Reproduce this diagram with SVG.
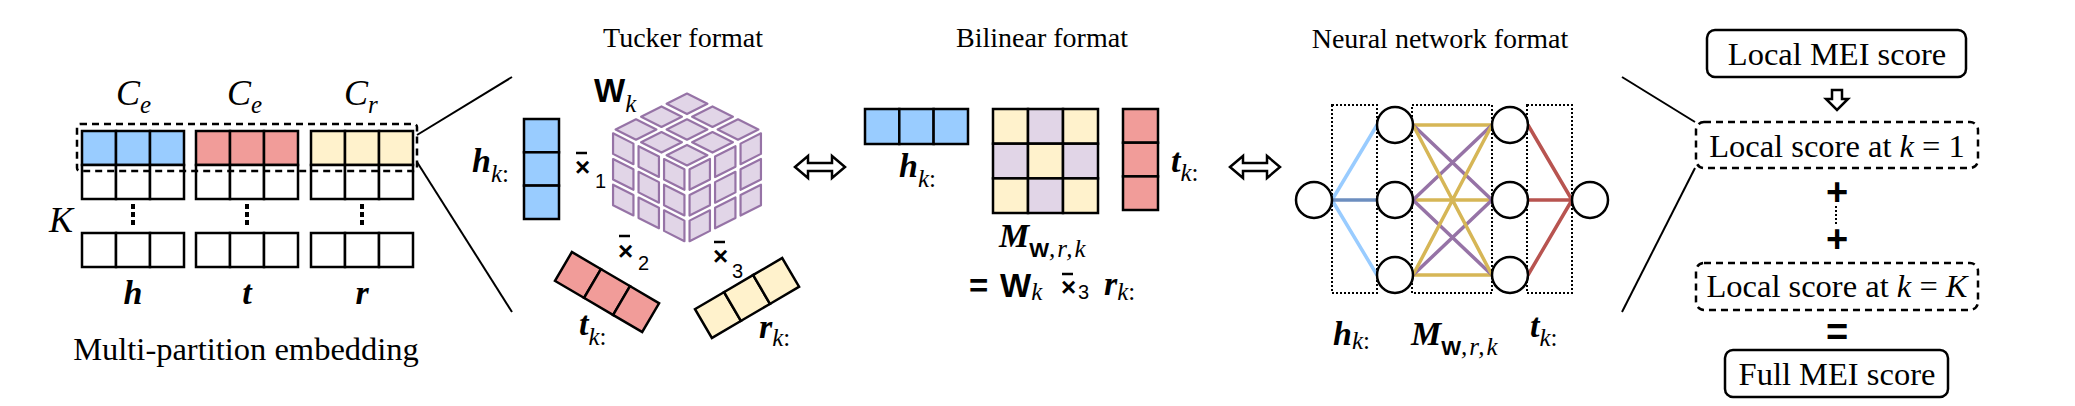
<svg xmlns="http://www.w3.org/2000/svg" width="2075" height="406" viewBox="0 0 2075 406">
<style>
.cell{stroke:#000;stroke-width:2.5}
.b{fill:#99ccff}.r{fill:#f19c99}.y{fill:#fff2cc}.p{fill:#e1d5e7}.w{fill:#fff}
.title{font-family:"Liberation Serif","Times New Roman",serif;font-size:28px}
.lbl{font-family:"Liberation Serif","Times New Roman",serif;font-size:32.5px}
.bi{font-family:"Liberation Serif","Times New Roman",serif;font-weight:bold;font-style:italic;font-size:34px}
.it{font-family:"Liberation Serif","Times New Roman",serif;font-style:italic;font-size:36px}
.sub{font-family:"Liberation Serif","Times New Roman",serif;font-style:italic;font-weight:normal;font-size:25px}
.up{font-style:normal}
.W{font-family:"Liberation Sans",Arial,sans-serif;font-weight:bold;font-size:33px}
.Ws{font-family:"Liberation Sans",Arial,sans-serif;font-weight:bold;font-style:normal;font-size:21px}
.op{font-family:"Liberation Sans",Arial,sans-serif;font-weight:bold;font-size:26px}
.big{font-family:"Liberation Sans",Arial,sans-serif;font-weight:bold;font-size:38px}
.num{font-family:"Liberation Sans",Arial,sans-serif;font-size:20px}
.conn{stroke:#000;stroke-width:2;fill:none}
.dash{fill:none;stroke:#000;stroke-width:2.5;stroke-dasharray:7 5}
.dot{fill:none;stroke:#000;stroke-width:2;stroke-dasharray:2 2}
.vdots{stroke:#000;stroke-width:4;stroke-dasharray:5 3}
.node{fill:#fff;stroke:#000;stroke-width:2.5}
.box{fill:#fff;stroke:#000;stroke-width:2.5}
.cc{fill:#e1d5e7;stroke:#9673a6;stroke-width:2.2;vector-effect:non-scaling-stroke;stroke-linejoin:round}
.bar{stroke:#000;stroke-width:2.5}
.arr{fill:#fff;stroke:#000;stroke-width:2.5}
.e{fill:none;stroke-width:3.5}
</style>
<defs>
<g id="face" fill="#e1d5e7" stroke="#9673a6">
<rect class="cc" x="0.1" y="0.1" width="0.8" height="0.8"/><rect class="cc" x="1.1" y="0.1" width="0.8" height="0.8"/><rect class="cc" x="2.1" y="0.1" width="0.8" height="0.8"/>
<rect class="cc" x="0.1" y="1.1" width="0.8" height="0.8"/><rect class="cc" x="1.1" y="1.1" width="0.8" height="0.8"/><rect class="cc" x="2.1" y="1.1" width="0.8" height="0.8"/>
<rect class="cc" x="0.1" y="2.1" width="0.8" height="0.8"/><rect class="cc" x="1.1" y="2.1" width="0.8" height="0.8"/><rect class="cc" x="2.1" y="2.1" width="0.8" height="0.8"/>
</g>
<path id="dbl" d="M0 0 L13 -11 L13 -4 L37 -4 L37 -11 L50 0 L37 11 L37 4 L13 4 L13 11 Z"/>
</defs>

<!-- Connectors -->
<g id="connectors">
<path class="conn" d="M417 135 L512 77"/>
<path class="conn" d="M417 162 L512 312"/>
<path class="conn" d="M1622 77 L1695 122"/>
<path class="conn" d="M1695 168 L1622 312"/>
<g class="e">
<path stroke="#99ccff" d="M1332 200 L1377 125 M1332 200 L1377 275"/>
<path stroke="#6c8ebf" d="M1332 200 L1377 200"/>
<path stroke="#d6b656" d="M1413 125 H1492 M1413 200 H1492 M1413 275 H1492"/>
<path stroke="#9673a6" d="M1413 125 L1492 200 M1413 200 L1492 125 M1413 200 L1492 275 M1413 275 L1492 200"/>
<path stroke="#d6b656" d="M1413 125 L1492 275 M1413 275 L1492 125"/>
<path stroke="#b85450" d="M1528 125 L1572 200 M1528 200 L1572 200 M1528 275 L1572 200"/>
</g>
</g>

<!-- Multi-partition embedding -->
<g id="embedding">
<text class="it" x="116" y="105">C<tspan class="sub" dy="8">e</tspan></text>
<text class="it" x="227" y="105">C<tspan class="sub" dy="8">e</tspan></text>
<text class="it" x="344" y="105">C<tspan class="sub" dy="8">r</tspan></text>
<g id="emb-h">
<rect class="cell b" x="82" y="131" width="34" height="34"/><rect class="cell b" x="116" y="131" width="34" height="34"/><rect class="cell b" x="150" y="131" width="34" height="34"/>
<rect class="cell w" x="82" y="165" width="34" height="34"/><rect class="cell w" x="116" y="165" width="34" height="34"/><rect class="cell w" x="150" y="165" width="34" height="34"/>
<rect class="cell w" x="82" y="233" width="34" height="34"/><rect class="cell w" x="116" y="233" width="34" height="34"/><rect class="cell w" x="150" y="233" width="34" height="34"/>
<line class="vdots" x1="133" y1="204" x2="133" y2="226"/>
<text class="bi" x="133" y="304" text-anchor="middle">h</text>
</g>
<g id="emb-t">
<rect class="cell r" x="196" y="131" width="34" height="34"/><rect class="cell r" x="230" y="131" width="34" height="34"/><rect class="cell r" x="264" y="131" width="34" height="34"/>
<rect class="cell w" x="196" y="165" width="34" height="34"/><rect class="cell w" x="230" y="165" width="34" height="34"/><rect class="cell w" x="264" y="165" width="34" height="34"/>
<rect class="cell w" x="196" y="233" width="34" height="34"/><rect class="cell w" x="230" y="233" width="34" height="34"/><rect class="cell w" x="264" y="233" width="34" height="34"/>
<line class="vdots" x1="247" y1="204" x2="247" y2="226"/>
<text class="bi" x="247" y="304" text-anchor="middle">t</text>
</g>
<g id="emb-r">
<rect class="cell y" x="311" y="131" width="34" height="34"/><rect class="cell y" x="345" y="131" width="34" height="34"/><rect class="cell y" x="379" y="131" width="34" height="34"/>
<rect class="cell w" x="311" y="165" width="34" height="34"/><rect class="cell w" x="345" y="165" width="34" height="34"/><rect class="cell w" x="379" y="165" width="34" height="34"/>
<rect class="cell w" x="311" y="233" width="34" height="34"/><rect class="cell w" x="345" y="233" width="34" height="34"/><rect class="cell w" x="379" y="233" width="34" height="34"/>
<line class="vdots" x1="362" y1="204" x2="362" y2="226"/>
<text class="bi" x="362" y="304" text-anchor="middle">r</text>
</g>
<rect class="dash" x="77" y="124" width="340" height="47" rx="3"/>
<text class="it" x="49" y="232" font-size="37">K</text>
<text class="lbl" x="246" y="360" text-anchor="middle">Multi-partition embedding</text>
</g>

<!-- Tucker format -->
<g id="tucker">
<text class="title" x="683" y="47" text-anchor="middle">Tucker format</text>
<text class="bi" x="472" y="172">h<tspan class="sub" dy="10">k<tspan class="up">:</tspan></tspan></text>
<g id="tucker-h">
<rect class="cell b" x="524" y="119" width="35" height="33.3"/><rect class="cell b" x="524" y="152.3" width="35" height="33.3"/><rect class="cell b" x="524" y="185.6" width="35" height="33.4"/>
</g>
<g id="cube">
<use href="#face" transform="matrix(25.5 12.833 -25.5 12.833 687 91)"/>
<use href="#face" transform="matrix(25.5 12.833 0 25.667 610.5 129.5)"/>
<use href="#face" transform="matrix(25.5 -12.833 0 25.667 687 168)"/>
</g>
<text class="W" x="594" y="102">W<tspan class="sub" dy="10">k</tspan></text>
<text class="op" x="575" y="176">×</text><line class="bar" x1="576" y1="153" x2="587" y2="153"/><text class="num" x="595" y="188">1</text>
<text class="op" x="618" y="260">×</text><line class="bar" x1="619" y1="236" x2="630" y2="236"/><text class="num" x="638" y="270">2</text>
<text class="op" x="713" y="265">×</text><line class="bar" x1="714" y1="242" x2="725" y2="242"/><text class="num" x="732" y="278">3</text>
<g id="tucker-t" transform="translate(607 292) rotate(30.4)">
<rect class="cell r" x="-50.5" y="-16.7" width="33.7" height="33.4"/><rect class="cell r" x="-16.8" y="-16.7" width="33.7" height="33.4"/><rect class="cell r" x="16.9" y="-16.7" width="33.7" height="33.4"/>
</g>
<text class="bi" x="579" y="335">t<tspan class="sub" dy="10">k<tspan class="up">:</tspan></tspan></text>
<g id="tucker-r" transform="translate(747 298) rotate(-30.4)">
<rect class="cell y" x="-50.5" y="-16.7" width="33.7" height="33.4"/><rect class="cell y" x="-16.8" y="-16.7" width="33.7" height="33.4"/><rect class="cell y" x="16.9" y="-16.7" width="33.7" height="33.4"/>
</g>
<text class="bi" x="759" y="338">r<tspan class="sub" dy="8">k<tspan class="up">:</tspan></tspan></text>
</g>

<g id="equiv1"><use href="#dbl" class="arr" transform="translate(795 167)"/></g>

<!-- Bilinear format -->
<g id="bilinear">
<text class="title" x="1042" y="47" text-anchor="middle">Bilinear format</text>
<g id="bil-h">
<rect class="cell b" x="865" y="109" width="34.3" height="35"/><rect class="cell b" x="899.3" y="109" width="34.3" height="35"/><rect class="cell b" x="933.6" y="109" width="34.4" height="35"/>
</g>
<text class="bi" x="899" y="177">h<tspan class="sub" dy="10">k<tspan class="up">:</tspan></tspan></text>
<g id="bil-M">
<rect class="cell y" x="993" y="109" width="35" height="34.7"/><rect class="cell p" x="1028" y="109" width="35" height="34.7"/><rect class="cell y" x="1063" y="109" width="35" height="34.7"/>
<rect class="cell p" x="993" y="143.7" width="35" height="34.7"/><rect class="cell y" x="1028" y="143.7" width="35" height="34.7"/><rect class="cell p" x="1063" y="143.7" width="35" height="34.7"/>
<rect class="cell y" x="993" y="178.4" width="35" height="34.6"/><rect class="cell p" x="1028" y="178.4" width="35" height="34.6"/><rect class="cell y" x="1063" y="178.4" width="35" height="34.6"/>
</g>
<g id="bil-t">
<rect class="cell r" x="1123" y="109" width="35" height="33.7"/><rect class="cell r" x="1123" y="142.7" width="35" height="33.7"/><rect class="cell r" x="1123" y="176.4" width="35" height="33.6"/>
</g>
<text class="bi" x="1171" y="172">t<tspan class="sub" dy="9">k<tspan class="up">:</tspan></tspan></text>
<text class="bi" x="999" y="247" font-size="35">M<tspan class="Ws" dy="10">W</tspan><tspan class="sub" letter-spacing="2">,r,k</tspan></text>
<text class="W" x="969" y="297">=</text>
<text class="W" x="1000" y="297">W<tspan class="sub" dy="3">k</tspan></text>
<text class="op" x="1061" y="296">×</text><line class="bar" x1="1062" y1="274" x2="1073" y2="274"/><text class="num" x="1078" y="299">3</text>
<text class="bi" x="1104" y="295">r<tspan class="sub" dy="5">k<tspan class="up">:</tspan></tspan></text>
</g>

<g id="equiv2"><use href="#dbl" class="arr" transform="translate(1230 167)"/></g>

<!-- Neural network format -->
<g id="nn">
<text class="title" x="1440" y="48" text-anchor="middle">Neural network format</text>
<rect class="dot" x="1332" y="105" width="45" height="188"/>
<rect class="dot" x="1412" y="105" width="80" height="188"/>
<rect class="dot" x="1527" y="105" width="45" height="188"/>
<g id="n-in"><circle class="node" cx="1314" cy="200" r="18"/></g>
<g id="n-h1"><circle class="node" cx="1395" cy="125" r="18"/></g>
<g id="n-h2"><circle class="node" cx="1395" cy="200" r="18"/></g>
<g id="n-h3"><circle class="node" cx="1395" cy="275" r="18"/></g>
<g id="n-m1"><circle class="node" cx="1510" cy="125" r="18"/></g>
<g id="n-m2"><circle class="node" cx="1510" cy="200" r="18"/></g>
<g id="n-m3"><circle class="node" cx="1510" cy="275" r="18"/></g>
<g id="n-out"><circle class="node" cx="1590" cy="200" r="18"/></g>
<text class="bi" x="1333" y="345">h<tspan class="sub" dy="4">k<tspan class="up">:</tspan></tspan></text>
<text class="bi" x="1411" y="345" font-size="35">M<tspan class="Ws" dy="10">W</tspan><tspan class="sub" letter-spacing="2">,r,k</tspan></text>
<text class="bi" x="1530" y="337">t<tspan class="sub" dy="9">k<tspan class="up">:</tspan></tspan></text>
</g>

<!-- Scores -->
<g id="score-local">
<rect class="box" x="1707" y="30" width="259" height="47" rx="8"/>
<text class="lbl" x="1837" y="65" text-anchor="middle">Local MEI score</text>
</g>
<g id="down-arrow"><path class="arr" stroke-width="2" d="M1832 90 H1842 V99 H1848 L1837 110 L1826 99 H1832 Z"/></g>
<g id="score-k1">
<rect class="dash" x="1696" y="122" width="282" height="46" rx="8"/>
<text class="lbl" x="1837" y="157" text-anchor="middle">Local score at <tspan font-style="italic">k</tspan> = 1</text>
</g>
<text class="big" x="1837" y="205" text-anchor="middle">+</text>
<line class="dot" x1="1836" y1="206" x2="1836" y2="224" stroke-width="1.5"/>
<text class="big" x="1837" y="252" text-anchor="middle">+</text>
<g id="score-kK">
<rect class="dash" x="1696" y="263" width="282" height="47" rx="8"/>
<text class="lbl" x="1837" y="297" text-anchor="middle">Local score at <tspan font-style="italic">k</tspan> = <tspan font-style="italic">K</tspan></text>
</g>
<text class="big" x="1837" y="345" text-anchor="middle">=</text>
<g id="score-full">
<rect class="box" x="1725" y="350" width="223" height="47" rx="8"/>
<text class="lbl" x="1837" y="385" text-anchor="middle">Full MEI score</text>
</g>
</svg>
